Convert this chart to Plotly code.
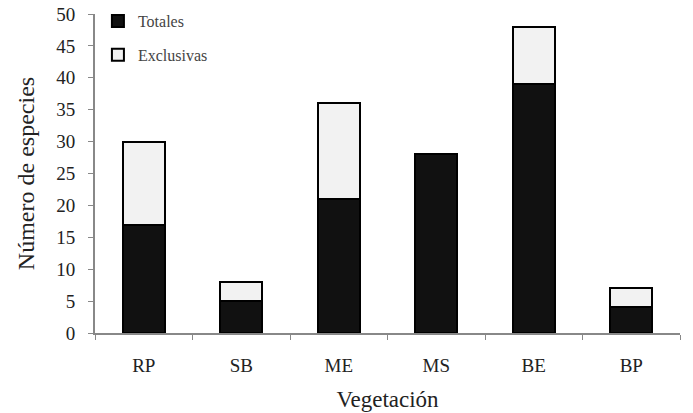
import plotly.graph_objects as go

categorias = ["RP", "SB", "ME", "MS", "BE", "BP"]
totales = [17, 5, 21, 28, 39, 4]
exclusivas = [13, 3, 15, 0, 9, 3]
y_ticks = [0, 5, 10, 15, 20, 25, 30, 35, 40, 45, 50]

fig = go.Figure()
fig.add_trace(go.Bar(
    x=categorias, y=totales, name="Totales", legendgroup="a",
    marker=dict(color="#111111", line=dict(color="#000000", width=2)),
    width=0.43,
))
fig.add_trace(go.Bar(
    x=categorias, y=exclusivas, name="Exclusivas", legendgroup="b",
    marker=dict(color="#f2f2f2", line=dict(color="#000000", width=2)),
    width=0.43,
))

font_family = "Liberation Serif, Times New Roman, serif"
fig.update_layout(
    barmode="stack",
    width=693, height=413,
    paper_bgcolor="white", plot_bgcolor="white",
    margin=dict(l=95, r=13, t=14, b=80, autoexpand=False),
    font=dict(family=font_family, color="#222222"),
    showlegend=True,
    legend=dict(
        x=0.005, y=1.031, xanchor="left", yanchor="top",
        traceorder="grouped", tracegroupgap=10,
        font=dict(size=16, family=font_family, color="#444444"),
        bgcolor="rgba(0,0,0,0)",
        itemwidth=30,
    ),
    xaxis=dict(
        automargin=False,
        showline=True, linecolor="#888888", linewidth=2,
        ticks="outside", tickson="boundaries", ticklen=5, tickcolor="#888888",
        tickfont=dict(size=19, family=font_family, color="#222222"),
        ticklabelstandoff=14,
        title=dict(text="Vegetación", font=dict(size=23, family=font_family, color="#222222"), standoff=16),
        showgrid=False,
    ),
    yaxis=dict(
        automargin=False,
        range=[0, 50], tickvals=y_ticks,
        showline=True, linecolor="#888888", linewidth=2,
        ticks="outside", ticklen=5, tickcolor="#888888",
        tickfont=dict(size=19, family=font_family, color="#222222"),
        ticklabelstandoff=9,
        title=dict(text="Número de especies", font=dict(size=24, family=font_family, color="#222222"), standoff=15),
        showgrid=False, zeroline=False,
    ),
)

fig.write_html("out.html", config={"displayModeBar": False},
               post_script="document.body.style.margin='0';")
